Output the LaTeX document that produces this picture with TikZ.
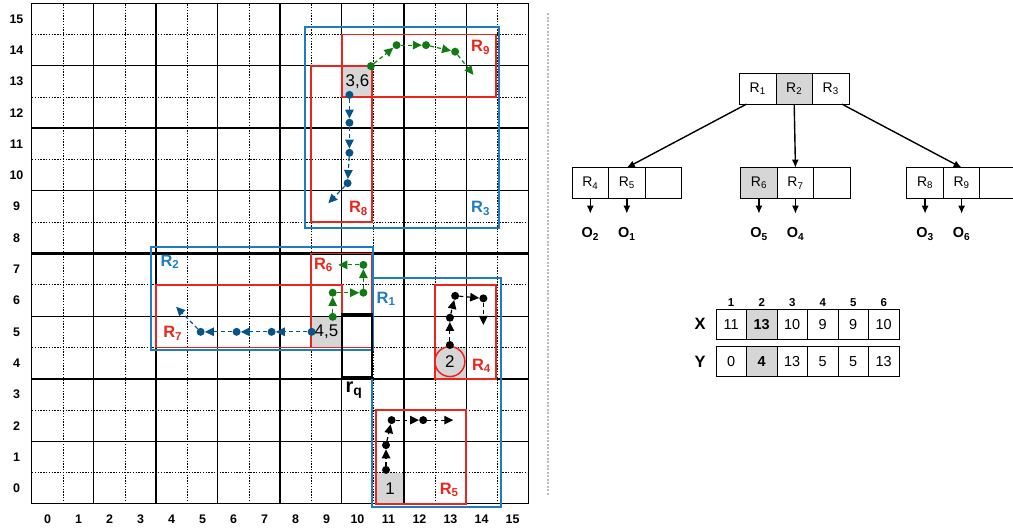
\documentclass[tikz,border=0pt]{standalone}
\usepackage{fontspec}
\setmainfont{Liberation Sans}
\usepackage{xcolor}
\usepackage{tikz}
\usetikzlibrary{arrows.meta, positioning}

\definecolor{rred}{RGB}{232,38,28}
\definecolor{rblue}{RGB}{30,125,192}
\definecolor{pblue}{RGB}{8,84,138}
\definecolor{pgreen}{RGB}{18,122,18}
\definecolor{cellgray}{RGB}{214,214,214}

\newcommand{\Rn}[1]{R\textsubscript{#1}}
\newcommand{\On}[1]{O\textsubscript{#1}}

\begin{document}
\begin{tikzpicture}[x=31bp, y=31.3bp, >={Latex[length=8bp,width=7bp]},
    dotln/.style={line width=0.8bp, dash pattern=on 1.4bp off 1.4bp},
    thinln/.style={line width=1bp},
    thickln/.style={line width=2.2bp},
    num/.style={font=\fontsize{12.5}{14}\selectfont\bfseries},
    rlab/.style={font=\fontsize{16.5}{18}\selectfont\bfseries},
    mbr/.style={line width=1.8bp},
    gcell/.style={fill=cellgray, inner sep=0pt, minimum width=31bp, minimum height=31.3bp, font=\fontsize{17}{19}\selectfont},
    pt/.style={circle, fill, inner sep=0pt, minimum size=8bp},
    walk/.style={line width=1.2bp, dash pattern=on 4bp off 3bp, -{Triangle[length=9bp,width=8.5bp]}},
    cell/.style={draw, line width=0.8bp, outer sep=0pt, inner sep=0pt, minimum width=36.5bp, minimum height=31bp, font=\fontsize{14}{16}\selectfont},
    olab/.style={inner sep=0pt, font=\fontsize{14.5}{16}\selectfont\bfseries},
    tcell/.style={draw, line width=0.8bp, outer sep=0pt, inner sep=0pt, minimum width=30.5bp, minimum height=30bp, font=\fontsize{14.5}{16}\selectfont},
    hcell/.style={tcell, fill=cellgray, font=\fontsize{14.5}{16}\selectfont\bfseries},
    hnum/.style={font=\fontsize{11.5}{13}\selectfont\bfseries},
    axlab/.style={font=\fontsize{16.5}{18}\selectfont\bfseries}]
\useasboundingbox (-1.032,-0.799) rectangle (31.645,16.102);

% 灰色格子
\node[gcell] (c36) at (10.5,13.5) {3,6};
\node[gcell, anchor=north] (c45) at (9.5,6) {\raisebox{-4bp}{4,5}};
\node[gcell, minimum width=28bp] (c1) at (11.55,0.5) {\raisebox{-1.5bp}{1}};
\fill[cellgray] (13,4) rectangle (14,5);

% 网格
\foreach \k in {1,3,...,15} {
    \draw[dotln] (\k,0) -- (\k,16);
    \draw[dotln] (0,\k) -- (16,\k);
}
\foreach \k in {2,6,10,14} {
    \draw[thinln] (\k,0) -- (\k,16);
    \draw[thinln] (0,\k) -- (16,\k);
}
\foreach \k in {4,8,12} {
    \draw[thickln] (\k,0) -- (\k,16);
    \draw[thickln] (0,\k) -- (16,\k);
}
\draw[thinln] (0,0) rectangle (16,16);
\foreach \k in {0,...,15} {
    \node[num] at (\k+0.5,-0.48) {\k};
    \node[num] at (-0.5,\k+0.5) {\k};
}

% 外层矩形
\draw[mbr, rblue] (8.81,8.83) rectangle (15.07,15.25);
\draw[mbr, rblue] (3.85,4.92) rectangle (10.99,8.2);
\draw[mbr, rblue] (10.96,-0.09) rectangle (15.12,7.23);

% 叶子矩形
\draw[mbr, rred] (10,13) rectangle (14.97,15);
\draw[mbr, rred] (9,9) rectangle (10.98,14);
\draw[mbr, rred] (4,5) rectangle (10,7);
\draw[mbr, rred] (9,5) rectangle (10.95,8);
\draw[mbr, rred] (13,4) rectangle (14.97,7);
\draw[mbr, rred] (11.1,0) rectangle (14,3);

% 查询矩形
\draw[line width=2.8bp] (10,4.05) rectangle (10.97,6.05);
\node[font=\fontsize{20}{22}\selectfont\bfseries] (rq) at (10.39,3.64) {r\textsubscript{q}};

% 对象2
\node[circle, draw=rred, line width=1.5bp, minimum size=30bp, inner sep=0pt, font=\fontsize{17}{19}\selectfont] (c2) at (13.48,4.55) {2};

% 访问路径
\node[pt, pgreen] (g1) at (10.93,13.99) {};
\node[pt, pgreen] (g2) at (11.76,14.66) {};
\node[pt, pgreen] (g3) at (12.71,14.66) {};
\node[pt, pgreen] (g4) at (13.65,14.45) {};
\coordinate (g5) at (14.24,13.71);
\draw[walk, pgreen] (g1) -- (g2);
\draw[walk, pgreen] (g2) -- (g3);
\draw[walk, pgreen] (g3) -- (g4);
\draw[walk, pgreen] (g4) -- (g5);

\node[pt, pblue] (b1) at (10.24,13.07) {};
\node[pt, pblue] (b2) at (10.24,12.18) {};
\node[pt, pblue] (b3) at (10.24,11.22) {};
\node[pt, pblue] (b4) at (10.18,10.25) {};
\coordinate (b5) at (9.56,9.61);
\draw[walk, pblue] (b1) -- (b2);
\draw[walk, pblue] (b2) -- (b3);
\draw[walk, pblue] (b3) -- (b4);
\draw[walk, pblue] (b4) -- (b5);

\node[pt, pblue] (d1) at (9.02,5.5) {};
\node[pt, pblue] (d2) at (7.73,5.5) {};
\node[pt, pblue] (d3) at (6.6,5.5) {};
\node[pt, pblue] (d4) at (5.44,5.5) {};
\coordinate (d5) at (4.65,6.3);
\draw[walk, pblue] (d1) -- (d2);
\draw[walk, pblue] (d2) -- (d3);
\draw[walk, pblue] (d3) -- (d4);
\draw[walk, pblue] (d4) -- (d5);

\node[pt, pgreen] (e1) at (9.7,5.98) {};
\node[pt, pgreen] (e2) at (9.7,6.75) {};
\node[pt, pgreen] (e3) at (10.69,6.75) {};
\node[pt, pgreen] (e4) at (10.69,7.64) {};
\coordinate (e5) at (9.88,7.64);
\draw[walk, pgreen] (e1) -- (e2);
\draw[walk, pgreen] (e2) -- (e3);
\draw[walk, pgreen] (e3) -- (e4);
\draw[walk, pgreen] (e4) -- (e5);

\node[pt] (k1) at (13.48,5.08) {};
\node[pt] (k2) at (13.48,5.95) {};
\node[pt] (k3) at (13.65,6.65) {};
\node[pt] (k4) at (14.56,6.57) {};
\coordinate (k5) at (14.56,5.72);
\draw[walk] (k1) -- (k2);
\draw[walk] (k2) -- (k3);
\draw[walk] (k3) -- (k4);
\draw[walk] (k4) -- (k5);

\node[pt] (m1) at (11.42,1.09) {};
\node[pt] (m2) at (11.42,1.88) {};
\node[pt] (m3) at (11.6,2.68) {};
\node[pt] (m4) at (12.62,2.68) {};
\coordinate (m5) at (13.59,2.68);
\draw[walk] (m1) -- (m2);
\draw[walk] (m2) -- (m3);
\draw[walk] (m3) -- (m4);
\draw[walk] (m4) -- (m5);

% 矩形标签
\node[rlab, rred] (l9) at (14.47,14.59) {\Rn9};
\node[rlab, rred] (l8) at (10.53,9.45) {\Rn8};
\node[rlab, rblue] (l3) at (14.47,9.45) {\Rn3};
\node[rlab, rblue] (l2) at (4.45,7.74) {\Rn2};
\node[rlab, rred] (l7) at (4.54,5.45) {\Rn7};
\node[rlab, rred] (l6) at (9.4,7.64) {\Rn6};
\node[rlab, rblue] (l1) at (11.42,6.55) {\Rn1};
\node[rlab, rred] (l4) at (14.5,4.41) {\Rn4};
\node[rlab, rred] (l5) at (13.46,0.45) {\Rn5};

% 分隔线
\draw[gray!55, line width=1.5bp, dash pattern=on 2bp off 1.5bp] (16.65,0.29) -- (16.65,15.69);

% R树
\node[cell] (r1) at (23.41,13.27) {\Rn1};
\node[cell, fill=cellgray, right=0pt of r1] (r2) {\Rn2};
\node[cell, right=0pt of r2] (r3) {\Rn3};

\node[cell] (a4) at (18.01,10.25) {\Rn4};
\node[cell, right=0pt of a4] (a5) {\Rn5};
\node[cell, right=0pt of a5] (a0) {};
\node[cell, fill=cellgray] (b6) at (23.45,10.25) {\Rn6};
\node[cell, right=0pt of b6] (b7) {\Rn7};
\node[cell, right=0pt of b7] (b0) {};
\node[cell] (c8) at (28.81,10.25) {\Rn8};
\node[cell, right=0pt of c8] (c9) {\Rn9};
\node[cell, right=0pt of c9] (c0) {};

\draw[->, line width=1.4bp] ([xshift=7bp]r1.south west) -- (a5.north);
\draw[->, line width=1.4bp] (r2.south) -- (b7.north);
\draw[->, line width=1.4bp] ([xshift=-7bp]r3.south east) -- (c9.north);

\node[olab, below=29bp of a4] (o2) {\On2};
\node[olab, below=29bp of a5] (o1) {\On1};
\node[olab, below=29bp of b6] (o5) {\On5};
\node[olab, below=29bp of b7] (o4) {\On4};
\node[olab, below=29bp of c8] (o3) {\On3};
\node[olab, below=29bp of c9] (o6) {\On6};
\foreach \s/\t in {a4/o2, a5/o1, b6/o5, b7/o4, c8/o3, c9/o6}
    \draw[->, line width=1.4bp, shorten >=14bp] (\s.south) -- (\t.north);

% 坐标表
\node[axlab] (xl) at (21.55,5.74) {X};
\node[axlab] (yl) at (21.55,4.55) {Y};
\foreach \i in {1,...,6}
    \node[hnum] (h\i) at ({21.57+0.984*\i},6.43) {\i};
\foreach \v/\st [count=\i] in {11/tcell,13/hcell,10/tcell,9/tcell,9/tcell,10/tcell}
    \node[\st] (x\i) at ({21.57+0.984*\i},5.74) {\v};
\foreach \v/\st [count=\i] in {0/tcell,4/hcell,13/tcell,5/tcell,5/tcell,13/tcell}
    \node[\st] (y\i) at ({21.57+0.984*\i},4.55) {\v};
\end{tikzpicture}
\end{document}
